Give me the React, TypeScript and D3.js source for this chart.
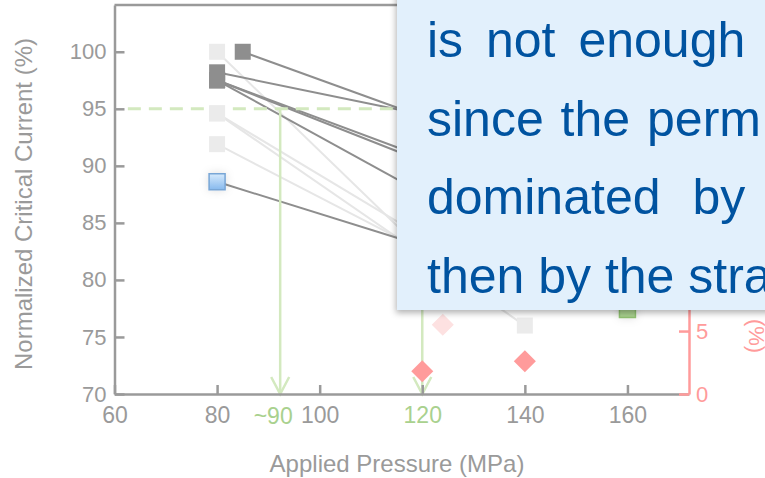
import { useEffect, useRef } from "react";
import * as d3 from "d3";

// axis ticks
const xTicks = [60, 80, 100, 120, 140, 160];
const yTicks = [70, 75, 80, 85, 90, 95, 100];
const rightTicks = [0, 5];

// dark grey samples: (pressure, Ic) at start -> end
const darkP0 = [85, 80, 80, 80, 80];
const darkIc0 = [100, 98.2, 97.5, 97.5, 97.5];
const darkP1 = [120, 120, 120, 120, 120];
const darkIc1 = [94.3, 94.5, 90.8, 90.4, 87.6];

// light grey samples
const lightP0 = [80, 80, 80, 80];
const lightIc0 = [100, 94.6, 94.6, 91.9];
const lightP1 = [120, 140, 120, 120];
const lightIc1 = [82.6, 76, 83.8, 82.6];

// highlighted blue sample
const blueP = [80, 120];
const blueIc = [88.6, 83.0];

// green sample
const greenP = [160];
const greenIc = [77.4];

// strain values on the right axis (%)
const strainP = [120, 140];
const strainV = [1.8, 2.6];
const fadedStrainP = [124];
const fadedStrainV = [5.5];

// 95% guide and where it crosses
const guideIc = 95;
const guideP = [92.3, 120];
const guideLabel = "~90";

const noteLines = ["is not enough", "since the perm", "dominated by", "then by the stra"];

const font = "'Liberation Sans', Arial, sans-serif";
const grey = "#9a9a9a";
const green = "#a9d18e";
const greenLine = "#d3e9bf";
const red = "#ff9b9b";

export default function App() {
  const svgRef = useRef<SVGSVGElement>(null);

  useEffect(() => {
    const w = 765;
    const h = 478;
    const svg = d3.select(svgRef.current).attr("width", w).attr("height", h);
    svg.selectAll("*").remove();

    const x = d3.scaleLinear().domain([60, 172]).range([114.5, 689]);
    const y = d3.scaleLinear().domain([70, 104.1]).range([394, 5]);
    const yR = d3.scaleLinear().domain([0, 30.9]).range([394, 5]);

    const defs = svg.append("defs");
    const glow = defs.append("filter").attr("id", "glow")
      .attr("x", "-100%").attr("y", "-100%").attr("width", "300%").attr("height", "300%");
    glow.append("feDropShadow").attr("dx", 0).attr("dy", 0).attr("stdDeviation", 4)
      .attr("flood-color", "#000").attr("flood-opacity", 0.13);
    const shadow = defs.append("filter").attr("id", "boxShadow")
      .attr("x", "-10%").attr("y", "-10%").attr("width", "130%").attr("height", "130%");
    shadow.append("feDropShadow").attr("dx", -1).attr("dy", 3).attr("stdDeviation", 3)
      .attr("flood-color", "#000").attr("flood-opacity", 0.3);
    const blueGrad = defs.append("linearGradient").attr("id", "blueGrad")
      .attr("x1", 0).attr("y1", 0).attr("x2", 0).attr("y2", 1);
    blueGrad.append("stop").attr("offset", "0%").attr("stop-color", "#d6eafc");
    blueGrad.append("stop").attr("offset", "100%").attr("stop-color", "#86b9ee");

    // connecting lines
    const lines = svg.append("g").attr("fill", "none").attr("stroke-width", 2);
    lightP0.forEach((p, i) => {
      lines.append("line")
        .attr("x1", x(p)).attr("y1", y(lightIc0[i]))
        .attr("x2", x(lightP1[i])).attr("y2", y(lightIc1[i]))
        .attr("stroke", "#e6e6e6");
    });
    darkP0.forEach((p, i) => {
      lines.append("line")
        .attr("x1", x(p)).attr("y1", y(darkIc0[i]))
        .attr("x2", x(darkP1[i])).attr("y2", y(darkIc1[i]))
        .attr("stroke", "#8e8e8e");
    });
    lines.append("line")
      .attr("x1", x(blueP[0])).attr("y1", y(blueIc[0]))
      .attr("x2", x(blueP[1])).attr("y2", y(blueIc[1]))
      .attr("stroke", "#8e8e8e");

    // green guides
    const guides = svg.append("g").attr("fill", "none").attr("stroke", greenLine);
    guides.append("line")
      .attr("x1", x(62.6)).attr("x2", x(guideP[1]))
      .attr("y1", y(guideIc)).attr("y2", y(guideIc))
      .attr("stroke-width", 3).attr("stroke-dasharray", "13,8");
    guideP.forEach(p => {
      guides.append("line")
        .attr("x1", x(p)).attr("x2", x(p))
        .attr("y1", y(guideIc)).attr("y2", y(70))
        .attr("stroke-width", 2.5);
    });

    const sq = d3.symbol(d3.symbolSquare, 256);
    const pts = svg.append("g");
    const square = (p: number, v: number, fill: string) =>
      pts.append("path").attr("d", sq()).attr("transform", `translate(${x(p)},${y(v)})`).attr("fill", fill);

    lightP0.forEach((p, i) => square(p, lightIc0[i], "#ebebeb"));
    lightP1.forEach((p, i) => square(p, lightIc1[i], "#ebebeb"));
    darkP1.forEach((p, i) => square(p, darkIc1[i], "#8e8e8e"));
    darkP0.forEach((p, i) => square(p, darkIc0[i], "#8e8e8e"));
    square(blueP[1], blueIc[1], "#9cc6f0");
    square(blueP[0], blueIc[0], "url(#blueGrad)")
      .attr("stroke", "#78a6d6").attr("stroke-width", 1.5).attr("filter", "url(#glow)");
    greenP.forEach((p, i) => square(p, greenIc[i], green)
      .attr("stroke", "#8fc071").attr("stroke-width", 1.5).attr("filter", "url(#glow)"));

    // strain diamonds
    const dia = d3.symbol(d3.symbolSquare, 243);
    fadedStrainP.forEach((p, i) => {
      pts.append("path").attr("d", dia())
        .attr("transform", `translate(${x(p)},${yR(fadedStrainV[i])}) rotate(45)`)
        .attr("fill", "#fde1e1");
    });
    strainP.forEach((p, i) => {
      pts.append("path").attr("d", dia())
        .attr("transform", `translate(${x(p)},${yR(strainV[i])}) rotate(45)`)
        .attr("fill", red);
    });

    // arrow heads
    guideP.forEach(p => {
      svg.append("path")
        .attr("d", `M${x(p) - 9},${y(70) - 17}L${x(p)},${y(70)}L${x(p) + 9},${y(70) - 17}`)
        .attr("fill", "none").attr("stroke", greenLine).attr("stroke-width", 2.5);
    });

    // axes
    const gx = svg.append("g").attr("transform", `translate(0,${y(70)})`)
      .call(d3.axisBottom(x).tickValues(xTicks).tickSize(-9).tickSizeOuter(0).tickPadding(13));
    const gy = svg.append("g").attr("transform", `translate(${x(60)},0)`)
      .call(d3.axisLeft(y).tickValues(yTicks).tickSize(-10).tickSizeOuter(0).tickPadding(8));
    gx.attr("font-size", 23);
    gy.attr("font-size", 22);
    [gx, gy].forEach(g => {
      g.attr("color", grey).attr("font-family", font);
      g.selectAll("path, line").attr("stroke-width", 2.5);
    });
    gx.selectAll<SVGTextElement, number>(".tick text").attr("fill", d => (d === 120 ? green : grey));

    svg.append("line")
      .attr("x1", x(60)).attr("x2", x(172)).attr("y1", y(104.1)).attr("y2", y(104.1))
      .attr("stroke", grey).attr("stroke-width", 2.5);

    const gr = svg.append("g").attr("transform", `translate(${x(172)},0)`)
      .call(d3.axisRight(yR).tickValues(rightTicks).tickSize(-10).tickSizeOuter(0).tickPadding(7));
    gr.attr("color", red).attr("font-size", 22).attr("font-family", font);
    gr.selectAll("path, line").attr("stroke-width", 2.5);

    svg.append("text")
      .attr("x", x(guideP[0]) - 7).attr("y", y(70) + 30)
      .attr("text-anchor", "middle").attr("font-size", 23).attr("font-family", font)
      .attr("fill", green).text(guideLabel);

    // axis titles
    svg.append("text")
      .attr("x", 397).attr("y", 472).attr("text-anchor", "middle")
      .attr("font-size", 24).attr("font-family", font).attr("fill", grey)
      .text("Applied Pressure (MPa)");
    svg.append("text")
      .attr("transform", "translate(32,204) rotate(-90)").attr("text-anchor", "middle")
      .attr("font-size", 24).attr("font-family", font).attr("fill", grey)
      .text("Normalized Critical Current (%)");
    svg.append("text")
      .attr("transform", "translate(749,336) rotate(90)").attr("text-anchor", "middle")
      .attr("font-size", 22).attr("font-family", font).attr("fill", red)
      .text("(%)");

    // callout box
    svg.append("rect")
      .attr("x", 397).attr("y", -20).attr("width", 420).attr("height", 330)
      .attr("fill", "#e2f0fc").attr("filter", "url(#boxShadow)");
    const spacing = [9, 3, 18, 0];
    noteLines.forEach((t, i) => {
      svg.append("text")
        .attr("x", 427).attr("y", 57 + i * 78.7)
        .attr("font-size", 50).attr("font-family", font)
        .attr("word-spacing", spacing[i])
        .attr("fill", "#0053a0").text(t);
    });
  }, []);

  return (
    <div>
      <svg ref={svgRef} style={{ position: "absolute", left: 0, top: 0, overflow: "hidden" }} />
    </div>
  );
}
